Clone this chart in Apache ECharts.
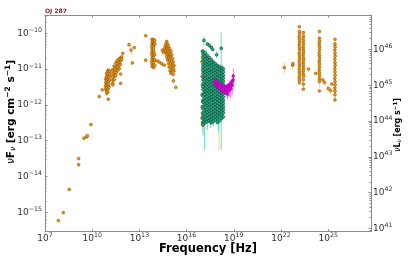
<!DOCTYPE html>
<html>
<head>
<meta charset="utf-8">
<script src="https://cdn.jsdelivr.net/npm/echarts@6/dist/echarts.min.js"></script>
<style>html,body{margin:0;padding:0;background:#fff}#c{width:408px;height:262px}</style>
</head>
<body>
<div id="c"></div>
<script>
// ---- axis definitions (log10 exponents) ----
const xTickExps = [7, 10, 13, 16, 19, 22, 25];
const leftTickExps = [-15, -14, -13, -12, -11, -10];
const rightTickExps = [41, 42, 43, 44, 45, 46];
const xRange = [7, 27.72];
const leftRange = [-15.54, -9.49];
const lumOffset = 56.45; // log10(nuL) - log10(nuF)

// ---- archival data (orange): [log10 nu, log10 nuFnu] ----
const archRadio = [[7.85,-15.23],[8.16,-15.01],[8.54,-14.36],[9.14,-13.50],[9.14,-13.67],[9.48,-12.93],[9.65,-12.89],[9.69,-12.86],[9.92,-12.55],[10.45,-11.77],[10.64,-11.58]];
const archMmA = [[10.85,-11.28],[10.86,-11.38],[10.84,-11.48],[10.87,-11.56],[10.92,-11.12],[10.91,-11.21],[10.93,-11.31],[10.92,-11.42],[10.94,-11.51],[10.91,-11.61],[10.93,-11.68],[10.98,-11.05],[10.99,-11.16],[10.97,-11.26],[11.0,-11.35],[10.98,-11.46],[11.0,-11.56],[10.99,-11.64],[11.05,-11.03],[11.06,-11.13],[11.04,-11.23],[11.07,-11.33],[11.05,-11.43],[11.06,-11.5],[11.12,-11.06],[11.13,-11.17],[11.11,-11.29],[11.02,-11.84]];
const archMmB = [[11.3,-11.02],[11.31,-11.12],[11.29,-11.22],[11.32,-11.31],[11.3,-11.4],[11.32,-11.44],[11.4,-10.92],[11.41,-11.01],[11.39,-11.1],[11.42,-11.2],[11.4,-11.3],[11.5,-10.82],[11.51,-10.91],[11.49,-11.0],[11.52,-11.1],[11.5,-11.18],[11.6,-10.76],[11.61,-10.85],[11.59,-10.95],[11.62,-11.04],[11.7,-10.72],[11.71,-10.8],[11.69,-10.9],[11.72,-10.99],[11.8,-10.69],[11.81,-10.77],[11.79,-10.87],[11.81,-11.14],[11.81,-11.40],[11.87,-10.66],[11.88,-10.73],[11.94,-10.56]];
const archIR = [[12.34,-10.32],[12.47,-10.47],[12.55,-10.83],[12.68,-10.40],[13.40,-10.07],[13.40,-10.75],
  [13.8,-10.17],[13.81,-10.25],[13.79,-10.33],[13.8,-10.4],[13.81,-10.48],[13.79,-10.55],[13.8,-10.62],[13.81,-10.7],[13.79,-10.78],[13.8,-10.85],[13.81,-10.93],
  [13.9,-10.17],[13.89,-10.22],[13.91,-10.3],[13.9,-10.37],[13.89,-10.45],[13.91,-10.52],[13.9,-10.6],[13.89,-10.68],[13.91,-10.75],[13.9,-10.82],[13.89,-10.9],[13.91,-10.96],
  [13.97,-10.2],[13.98,-10.3],[13.97,-10.6],[13.98,-10.75],[13.97,-10.9]];
const archOptUV = [[14.74,-10.23],[14.7,-10.28],[14.78,-10.3],[14.65,-10.35],[14.75,-10.38],[14.85,-10.36],[14.6,-10.42],[14.72,-10.45],[14.82,-10.45],[14.92,-10.43],[14.65,-10.5],[14.78,-10.52],[14.9,-10.52],[15.0,-10.5],[14.7,-10.58],[14.82,-10.6],[14.95,-10.6],[15.05,-10.6],[14.75,-10.67],[14.88,-10.68],[15.0,-10.68],[15.1,-10.7],[14.8,-10.75],[14.92,-10.76],[15.05,-10.78],[15.15,-10.8],[14.85,-10.85],[14.98,-10.86],[15.1,-10.88],[15.2,-10.9],[14.9,-10.95],[15.03,-10.96],[15.15,-10.98],[14.95,-11.05],[15.08,-11.05],[15.2,-11.05],[15.0,-11.12],[15.15,-11.15],[15.16,-11.33],[15.31,-11.51],[14.52,-10.53],[14.46,-10.47],[14.14,-10.77],[14.27,-10.81],[14.42,-10.85],[14.57,-10.89]];
const archXray = [[17.0,-10.5],[17.02,-10.65],[16.98,-10.8],[17.02,-11.0],[16.99,-11.2],[17.01,-11.45],[16.98,-11.72],[17.02,-11.9],[16.99,-12.05],[17.01,-12.23],[16.98,-12.37],[17.0,-12.5],[17.03,-12.56],[17.3,-12.45],[17.5,-12.4]];
const archGamma = [[22.21,-10.96],[22.74,-10.89],[22.76,-10.85],
  [23.17,-9.82],[23.17,-9.95],[23.18,-10.02],[23.16,-10.1],[23.17,-10.17],[23.18,-10.25],[23.16,-10.32],[23.17,-10.4],[23.18,-10.47],[23.16,-10.55],[23.17,-10.62],[23.18,-10.7],[23.16,-10.77],[23.17,-10.85],[23.18,-10.92],[23.16,-11.0],[23.17,-11.08],[23.18,-11.15],[23.16,-11.23],[23.17,-11.3],[23.17,-11.38],
  [23.42,-9.98],[23.43,-10.08],[23.41,-10.15],[23.42,-10.22],[23.43,-10.3],[23.41,-10.38],[23.42,-10.45],[23.43,-10.52],[23.41,-10.6],[23.42,-10.68],[23.43,-10.75],[23.41,-10.83],[23.42,-10.9],[23.43,-10.98],[23.41,-11.05],[23.42,-11.13],[23.43,-11.2],[23.42,-11.3],[23.42,-11.42],[23.42,-11.56],
  [23.75,-11.0],[24.21,-11.12],
  [24.44,-9.95],[24.44,-10.14],[24.45,-10.22],[24.43,-10.3],[24.44,-10.38],[24.45,-10.46],[24.43,-10.54],[24.44,-10.62],[24.45,-10.7],[24.43,-10.78],[24.44,-10.86],[24.45,-10.94],[24.43,-11.02],[24.44,-11.1],[24.45,-11.18],[24.44,-11.27],[24.44,-11.35],[24.44,-11.61],
  [24.65,-11.3],[24.76,-11.37],[25.0,-11.54],[25.16,-11.6],[25.23,-11.42],
  [25.43,-10.17],[25.43,-10.3],[25.44,-10.38],[25.42,-10.47],[25.43,-10.56],[25.44,-10.64],[25.42,-10.73],[25.43,-10.82],[25.44,-10.9],[25.42,-10.99],[25.43,-11.08],[25.44,-11.17],[25.42,-11.26],[25.43,-11.35],[25.44,-11.44],[25.42,-11.53],[25.43,-11.62],[25.43,-11.72],[25.43,-11.86]];
// archival error bars: [log nu, low, high]
const archErr = [[12.47,-10.33,-10.61],[22.21,-10.8,-11.12],[22.74,-10.8,-11.0],[23.17,-9.9,-11.45],[23.42,-10.0,-11.6],[24.44,-10.1,-11.5],[25.43,-10.25,-11.9],[25.0,-11.45,-11.66],[25.16,-11.5,-11.72],[24.76,-11.3,-11.45],[18.06,-12.4,-13.26],[17.0,-12.3,-12.75],[15.16,-11.25,-11.4]];

// ---- Swift-XRT-like data (green): columns of log nuFnu at given log nu ----
const xrtNu = [17.05,17.18,17.31,17.44,17.57,17.70,17.83,17.96,18.09,18.22,18.33];
const xrtLogF = [
 [-10.50,-10.57,-10.69,-10.76,-10.88,-10.94,-11.05,-11.12,-11.23,-11.30,-11.41,-11.50,-11.57,-11.68,-11.75,-11.86,-11.93,-12.04,-12.11,-12.22,-12.31,-12.38,-12.47,-12.55],
 [-10.56,-10.64,-10.73,-10.83,-10.90,-11.01,-11.08,-11.19,-11.26,-11.36,-11.44,-11.53,-11.62,-11.71,-11.80,-11.89,-11.97,-12.07,-12.16,-12.24,-12.34,-12.42,-12.50],
 [-10.62,-10.70,-10.79,-10.87,-10.97,-11.06,-11.14,-11.24,-11.33,-11.41,-11.50,-11.60,-11.67,-11.77,-11.85,-11.95,-12.02,-12.13,-12.20,-12.29,-12.38,-12.47],
 [-10.68,-10.75,-10.85,-10.93,-11.03,-11.10,-11.20,-11.29,-11.37,-11.47,-11.55,-11.64,-11.73,-11.82,-11.90,-12.00,-12.08,-12.17,-12.26,-12.35,-12.44],
 [-10.74,-10.82,-10.90,-11.00,-11.08,-11.17,-11.26,-11.35,-11.43,-11.53,-11.61,-11.70,-11.79,-11.87,-11.97,-12.05,-12.14,-12.23,-12.31,-12.42,-12.50],
 [-10.80,-10.87,-10.96,-11.05,-11.13,-11.23,-11.31,-11.40,-11.49,-11.58,-11.66,-11.76,-11.84,-11.93,-12.02,-12.11,-12.19,-12.28,-12.37,-12.46],
 [-10.85,-10.93,-11.02,-11.10,-11.19,-11.28,-11.37,-11.46,-11.54,-11.63,-11.72,-11.81,-11.89,-11.98,-12.07,-12.16,-12.24,-12.33,-12.42],
 [-10.90,-10.98,-11.07,-11.15,-11.24,-11.33,-11.42,-11.50,-11.59,-11.68,-11.77,-11.85,-11.94,-12.03,-12.12,-12.20,-12.29,-12.38,-12.49],
 [-10.93,-11.01,-11.10,-11.19,-11.27,-11.36,-11.45,-11.54,-11.62,-11.71,-11.80,-11.89,-11.97,-12.06,-12.15,-12.24,-12.32,-12.44],
 [-10.96,-11.04,-11.13,-11.22,-11.31,-11.39,-11.48,-11.57,-11.66,-11.74,-11.83,-11.92,-12.00,-12.09,-12.18,-12.27,-12.38],
 [-10.99,-11.08,-11.17,-11.25,-11.34,-11.43,-11.52,-11.61,-11.69,-11.78,-11.87,-11.96,-12.05,-12.13,-12.22,-12.33]
];
const xrtHigh = [[17.1,-10.2],[17.32,-10.3],[17.44,-10.34],[17.57,-10.39],[17.66,-10.45],[17.91,-10.6],[18.2,-10.42]];
const xrtErr = [[18.2,-9.98,-13.26],[17.13,-12.3,-13.26],[17.05,-12.2,-12.85],[17.32,-12.2,-12.7],[17.5,-12.25,-12.65],[17.7,-12.2,-12.6],[18.02,-12.0,-12.75],[18.12,-11.0,-12.4],[17.1,-10.1,-10.35],[17.91,-10.5,-10.7],[17.25,-10.45,-12.5],[17.62,-10.7,-12.5],[17.98,-10.85,-12.45],[18.3,-10.9,-12.4]];

// ---- NuSTAR-like data (magenta) ----
const nustar = [[17.82,-11.32],[17.82,-11.38],[17.83,-11.42],[17.9,-11.35],[17.9,-11.4],[17.91,-11.46],[18.0,-11.4],[18.0,-11.45],[18.01,-11.5],[18.1,-11.42],[18.1,-11.48],[18.11,-11.55],[18.2,-11.45],[18.2,-11.52],[18.21,-11.6],[18.3,-11.48],[18.3,-11.55],[18.31,-11.62],[18.4,-11.5],[18.4,-11.57],[18.41,-11.65],[18.5,-11.5],[18.5,-11.58],[18.51,-11.66],[18.6,-11.48],[18.6,-11.55],[18.61,-11.63],[18.6,-11.7],[18.7,-11.45],[18.7,-11.52],[18.71,-11.6],[18.8,-11.4],[18.8,-11.48],[18.81,-11.55],[18.9,-11.35],[18.9,-11.45],[18.97,-11.19],[18.96,-11.3]];
const nustarErr = [[18.97,-10.98,-11.4],[18.9,-11.2,-11.7],[18.8,-11.3,-11.8],[18.6,-11.4,-11.85],[18.7,-11.35,-11.8],[18.5,-11.4,-11.8],[17.82,-11.25,-11.5],[18.2,-11.35,-11.7]];

// ---- build ----
const archAll = [].concat(archRadio, archMmA, archMmB, archIR, archOptUV, archXray, archGamma);
const xrtAll = [];
xrtNu.forEach((nu, i) => xrtLogF[i].forEach(f => xrtAll.push([nu, f])));
xrtHigh.forEach(p => xrtAll.push(p));

const minorOf = (exps, lo, hi) => {
  const out = [];
  for (let e = Math.floor(lo) - 1; e <= Math.ceil(hi); e++) {
    for (let k = 2; k <= 9; k++) { const v = e + Math.log10(k); if (v > lo && v < hi) out.push(v); }
  }
  return out;
};
const rightRange = [leftRange[0] + lumOffset, leftRange[1] + lumOffset];
const supFmt = v => { const e = Math.round(v); return '{b|10}{s|' + (e < 0 ? '\u2212' + (-e) : e) + '}'; };
const labRich = {
  b: { fontSize: 9, fontFamily: 'DejaVu Sans', color: '#333' },
  s: { fontSize: 6.3, fontFamily: 'DejaVu Sans', color: '#333', padding: [0, 0, 6, 0] }
};
const spine = { show: true, lineStyle: { color: '#8c8c8c', width: 1 } };

function errSeries(data, color, op) {
  return {
    type: 'custom', xAxisIndex: 0, yAxisIndex: 0, data: data, silent: true,
    encode: { x: 0, y: [1, 2] },
    renderItem: (params, api) => {
      const a = api.coord([api.value(0), api.value(1)]);
      const b = api.coord([api.value(0), api.value(2)]);
      return { type: 'line', shape: { x1: a[0], y1: a[1], x2: b[0], y2: b[1] }, style: { stroke: color, lineWidth: 1, opacity: op } };
    }
  };
}
function ptSeries(data, fill, edge, size) {
  return {
    type: 'scatter', xAxisIndex: 0, yAxisIndex: 0, data: data, symbol: 'circle', symbolSize: size,
    itemStyle: { color: fill, borderColor: edge, borderWidth: 0.5, opacity: 1 }, silent: true
  };
}

const chart = echarts.init(document.getElementById('c'), null, { renderer: 'canvas' });
chart.setOption({
  animation: false,
  grid: { left: 45, top: 15, width: 326, height: 216.7, containLabel: false },
  xAxis: [
    { type: 'value', position: 'bottom', min: xRange[0], max: xRange[1], axisLine: spine,
      splitLine: { show: false },
      axisTick: { show: true, inside: true, length: 2.5, customValues: xTickExps, lineStyle: { color: '#8c8c8c' } },
      axisLabel: { show: true, customValues: xTickExps, formatter: supFmt, rich: labRich, margin: 1 } },
    { type: 'value', position: 'top', min: xRange[0], max: xRange[1], axisLine: spine,
      splitLine: { show: false },
      axisTick: { show: true, inside: true, length: 2.5, customValues: xTickExps, lineStyle: { color: '#8c8c8c' } },
      axisLabel: { show: false } }
  ],
  yAxis: [
    { type: 'value', position: 'left', min: leftRange[0], max: leftRange[1], axisLine: spine,
      splitLine: { show: false },
      axisTick: { show: true, inside: true, length: 2.5, customValues: leftTickExps, lineStyle: { color: '#8c8c8c' } },
      axisLabel: { show: true, customValues: leftTickExps, formatter: supFmt, rich: labRich, margin: 3 } },
    { type: 'value', position: 'left', min: leftRange[0], max: leftRange[1], axisLine: { show: false },
      splitLine: { show: false },
      axisTick: { show: true, inside: true, length: 1.5, customValues: minorOf(leftTickExps, leftRange[0], leftRange[1]), lineStyle: { color: '#8c8c8c' } },
      axisLabel: { show: false } },
    { type: 'value', position: 'right', min: rightRange[0], max: rightRange[1], axisLine: spine,
      splitLine: { show: false },
      axisTick: { show: true, inside: true, length: 2.5, customValues: rightTickExps, lineStyle: { color: '#8c8c8c' } },
      axisLabel: { show: true, customValues: rightTickExps, formatter: supFmt, rich: labRich, margin: 2 } },
    { type: 'value', position: 'right', min: rightRange[0], max: rightRange[1], axisLine: { show: false },
      splitLine: { show: false },
      axisTick: { show: true, inside: true, length: 1.5, customValues: minorOf(rightTickExps, rightRange[0], rightRange[1]), lineStyle: { color: '#8c8c8c' } },
      axisLabel: { show: false } }
  ],
  series: [
    errSeries(archErr, '#f5a623', 0.55),
    ptSeries(archAll, '#f0960f', '#7a4a00', 2.9),
    errSeries(xrtErr, '#2ee0b0', 0.8),
    ptSeries(xrtAll, '#1db587', '#0a3024', 3.0),
    errSeries(nustarErr, '#ff40ff', 0.8),
    ptSeries(nustar, '#e800e8', '#8a008a', 2.9)
  ],
  graphic: [
    { type: 'text', left: 45, top: 8, silent: true,
      style: { text: 'OJ 287', font: 'bold 6px "DejaVu Sans"', fill: '#8b1a1a' } },
    { type: 'text', x: 11, y: 112, rotation: Math.PI / 2, silent: true,
      style: { text: '{v|\u03bd}{b|F}{sub|\u03bd}{b| [erg cm}{sup|\u22122}{b| s}{sup|\u22121}{b|]}', align: 'center', verticalAlign: 'middle',
        rich: {
          v: { fontSize: 10.5, fontFamily: 'DejaVu Sans', fontStyle: 'italic', fill: '#000' },
          b: { fontSize: 10.5, fontFamily: 'DejaVu Sans', fontWeight: 'bold', fill: '#000' },
          sub: { fontSize: 7.5, fontFamily: 'DejaVu Sans', fontStyle: 'italic', fill: '#000', padding: [5, 0, 0, 0] },
          sup: { fontSize: 7.5, fontFamily: 'DejaVu Sans', fontWeight: 'bold', fill: '#000', padding: [0, 0, 6, 0] }
        } } },
    { type: 'text', x: 208, y: 249, silent: true,
      style: { text: 'Frequency [Hz]', font: 'bold 11.5px "DejaVu Sans"', fill: '#000', align: 'center', verticalAlign: 'middle' } },
    { type: 'text', x: 398, y: 125, rotation: Math.PI / 2, silent: true,
      style: { text: '{v|\u03bd}{b|L}{sub|\u03bd}{b| [erg s}{sup|\u22121}{b|]}', align: 'center', verticalAlign: 'middle',
        rich: {
          v: { fontSize: 8, fontFamily: 'DejaVu Sans', fontStyle: 'italic', fill: '#000' },
          b: { fontSize: 8, fontFamily: 'DejaVu Sans', fontWeight: 'bold', fill: '#000' },
          sub: { fontSize: 5.6, fontFamily: 'DejaVu Sans', fontStyle: 'italic', fill: '#000', padding: [4, 0, 0, 0] },
          sup: { fontSize: 5.6, fontFamily: 'DejaVu Sans', fontWeight: 'bold', fill: '#000', padding: [0, 0, 4, 0] }
        } } }
  ]
});
</script>
</body>
</html>
